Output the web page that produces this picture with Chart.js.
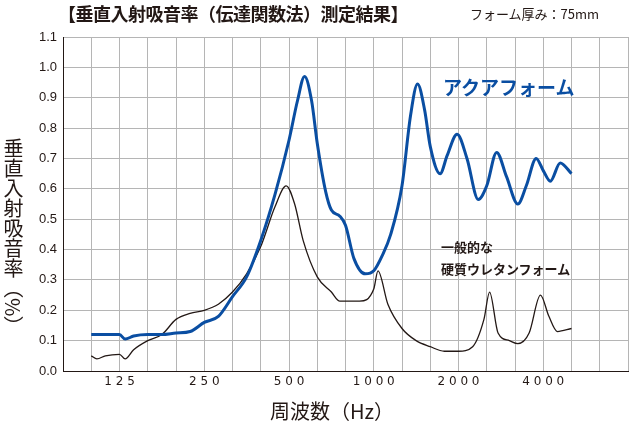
<!DOCTYPE html>
<html><head><meta charset="utf-8">
<script src="https://cdn.jsdelivr.net/npm/chart.js@4"></script>
<style>
body{margin:0;background:#fff;font-family:"Noto Sans CJK JP",sans-serif;}
#w{position:relative;width:632px;height:425px;}
.t{position:absolute;white-space:nowrap;color:#231815;}
</style></head><body>
<div id="w">
<canvas id="c" width="632" height="425"></canvas>
<div class="t" style="left:58px;top:0px;font-size:18px;font-weight:bold;letter-spacing:-0.5px;">【垂直入射吸音率（伝達関数法）測定結果】</div>
<div class="t" style="left:470px;top:4px;font-size:13px;">フォーム厚み：75mm</div>
<div class="t" style="left:443px;top:73px;font-size:19px;font-weight:bold;color:#0a4ea2;">アクアフォーム</div>
<div class="t" style="left:441px;top:236px;font-size:13px;font-weight:bold;line-height:22px;">一般的な<br>硬質ウレタンフォーム</div>
<div class="t" style="left:270px;top:396px;font-size:20px;">周波数（Hz）</div>
<div class="t" style="left:1px;top:138px;font-size:20px;writing-mode:vertical-rl;line-height:24px;">垂直入射吸音率（%）</div>
</div>
<script>
const xLabels = {0:'1 2 5',3:'2 5 0',6:'5 0 0',9:'1 0 0 0',12:'2 0 0 0',15:'4 0 0 0'};
const aquaX = [-1,-0.5,0,0.2,0.5,1,1.5,2,2.5,3,3.5,4,4.5,5,5.5,6,6.3,6.55,6.8,7,7.3,7.5,7.8,8,8.3,8.7,9,9.3,9.6,10,10.3,10.55,10.8,11,11.35,11.6,11.95,12.3,12.7,13,13.35,13.7,14.1,14.4,14.75,15,15.25,15.6,16];
const aquaY = [0.12,0.12,0.12,0.105,0.115,0.12,0.12,0.125,0.13,0.16,0.18,0.245,0.31,0.43,0.58,0.76,0.89,0.97,0.89,0.75,0.59,0.53,0.51,0.48,0.37,0.32,0.33,0.38,0.45,0.61,0.84,0.945,0.86,0.74,0.65,0.71,0.78,0.70,0.565,0.61,0.72,0.64,0.55,0.61,0.70,0.66,0.625,0.685,0.65];
const uraX = [-1,-0.8,-0.5,0,0.2,0.5,1,1.5,2,2.5,3,3.5,4,4.5,5,5.5,5.9,6.2,6.5,7,7.5,7.8,8.5,9,9.15,9.5,10,10.5,11,11.5,12,12.5,12.9,13.1,13.4,13.8,14.1,14.5,14.9,15.2,15.5,16];
const uraY = [0.05,0.04,0.05,0.055,0.04,0.07,0.10,0.12,0.17,0.19,0.20,0.22,0.26,0.32,0.41,0.54,0.61,0.55,0.43,0.31,0.26,0.23,0.23,0.27,0.33,0.22,0.14,0.10,0.08,0.065,0.065,0.08,0.17,0.26,0.125,0.10,0.09,0.125,0.25,0.18,0.13,0.14];
const pts=(xs,ys)=>xs.map((x,i)=>({x,y:ys[i]}));
new Chart(document.getElementById('c'),{
 type:'line',
 data:{datasets:[
  {data:pts(aquaX,aquaY),borderColor:'#0a4ea2',borderWidth:3,pointRadius:0,tension:0.4,cubicInterpolationMode:'monotone'},
  {data:pts(uraX,uraY),borderColor:'#231815',borderWidth:1.3,pointRadius:0,tension:0.4,cubicInterpolationMode:'monotone'}
 ]},
 options:{responsive:false,animation:false,
  layout:{padding:{top:37,right:0,left:0,bottom:0}},
  plugins:{legend:{display:false},tooltip:{enabled:false}},
  scales:{
   x:{type:'linear',min:-2,max:18,
     ticks:{stepSize:1,autoSkip:false,maxRotation:0,color:'#231815',font:{family:'DejaVu Sans',size:12},padding:4,
       callback:v=>xLabels[v]||''},
     grid:{color:'#b5b5b5',lineWidth:1,drawTicks:false},
     border:{color:'#231815'},
     afterFit:s=>{s.height=54;}},
   y:{min:0,max:1.1,
     ticks:{stepSize:0.1,color:'#231815',font:{family:'Liberation Sans Narrow, Liberation Sans',size:13},padding:6,
       callback:v=>v.toFixed(1)},
     grid:{color:'#b5b5b5',lineWidth:1,drawTicks:false},
     border:{color:'#231815'},
     afterFit:s=>{s.width=63;}}
  }}
});
</script></body></html>
